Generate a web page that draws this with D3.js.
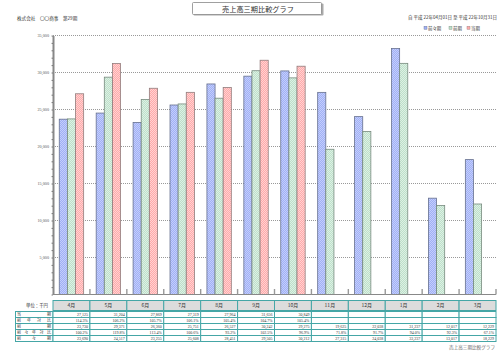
<!DOCTYPE html>
<html>
<head>
<meta charset="utf-8">
<script src="https://cdn.jsdelivr.net/npm/d3@7"></script>
<style>
body { margin: 0; background: #fff; }
text { font-family: "Noto Sans CJK JP", "Noto Sans", sans-serif; }
</style>
</head>
<body>
<script>
var months = ["4月","5月","6月","7月","8月","9月","10月","11月","12月","1月","2月","3月"];
var seriesNames = ["前々期","前期","当期"];
var zenzenki = [23690,24517,23255,25608,28451,29505,30212,27315,24038,33237,13017,18229];
var zenki = [23730,29371,26360,25751,26527,30242,29275,19625,22038,31237,12017,12229];
var touki = [27125,31204,27869,27319,27964,31656,30849,null,null,null,null,null];
var ratioTouki = ["114.3%","106.2%","105.7%","106.1%","105.4%","104.7%","105.4%","","","","",""];
var ratioZenki = ["100.2%","119.8%","113.4%","100.6%","93.2%","102.5%","96.9%","71.8%","91.7%","94.0%","92.3%","67.1%"];
var yTicks = [5000,10000,15000,20000,25000,30000,35000];
var rowLabels = ["当　　　　期","前 年 対 比","前　　　　期","前々年対比","前　々　期"];

var W = 500, H = 351;
var svg = d3.select("body").append("svg").attr("width", W).attr("height", H);

var colors = [
  {base:"#a0b0f6", alt:"#c4cefb", line:"#66708e"},
  {base:"#bde0ca", alt:"#ddf0e4", line:"#778a7e"},
  {base:"#ffaaaa", alt:"#ffd2d2", line:"#927c7c"}
];
var defs = svg.append("defs");
colors.forEach(function(c, i){
  var p = defs.append("pattern").attr("id","pat"+i).attr("width",2).attr("height",2)
    .attr("patternUnits","userSpaceOnUse");
  p.append("rect").attr("width",2).attr("height",2).attr("fill",c.base);
  p.append("rect").attr("width",1).attr("height",1).attr("fill",c.alt);
  p.append("rect").attr("x",1).attr("y",1).attr("width",1).attr("height",1).attr("fill",c.alt);
});

var xScale = d3.scaleBand().domain(months).range([53,496]).padding(0);
var inner = d3.scaleBand().domain(d3.range(3)).range([0, xScale.bandwidth()]).paddingInner(0).paddingOuter(0.77);
var yScale = d3.scaleLinear().domain([0,35000]).range([294.5,35.5]);

// header texts
svg.append("text").attr("x",17).attr("y",19.5).attr("font-size",4.6).attr("fill","#333")
  .text("株式会社　〇〇商事　第29期");
svg.append("rect").attr("x",193.5).attr("y",3.5).attr("width",130).attr("height",12)
  .attr("fill","#aaa").attr("rx",1);
svg.append("rect").attr("x",192.5).attr("y",2.5).attr("width",129).attr("height",12)
  .attr("fill","#fff").attr("stroke","#888").attr("stroke-width",0.8).attr("rx",1);
svg.append("text").attr("x",258).attr("y",11.8).attr("text-anchor","middle").attr("font-size",7.2)
  .attr("fill","#333").text("売上高三期比較グラフ");
svg.append("text").attr("x",497).attr("y",18.5).attr("text-anchor","end").attr("font-size",4.5)
  .attr("fill","#333").text("自 平成 22年04月01日 至 平成 22年10月31日");

// legend
var legendX = [424, 449, 467];
seriesNames.forEach(function(n, i){
  svg.append("rect").attr("x",legendX[i]).attr("y",26.3).attr("width",3).attr("height",3)
    .attr("fill",colors[i].base).attr("stroke",colors[i].line).attr("stroke-width",0.4);
  svg.append("text").attr("x",legendX[i]+4).attr("y",29.5).attr("font-size",4.4)
    .attr("fill","#333").text(n);
});

// gridlines
svg.append("g").selectAll("line").data(yTicks).enter().append("line")
  .attr("x1",53).attr("x2",496)
  .attr("y1",function(d){return yScale(d);}).attr("y2",function(d){return yScale(d);})
  .attr("stroke","#999").attr("stroke-width",1).attr("stroke-dasharray","1,1");

// y axis
var yAxis = d3.axisLeft(yScale).tickValues(yTicks).tickSize(0).tickPadding(4)
  .tickFormat(d3.format(","));
var yg = svg.append("g").attr("transform","translate(53,0)").call(yAxis);
yg.select(".domain").attr("stroke","#888").attr("stroke-width",2);
yg.selectAll("text").attr("font-size",4.2).attr("fill","#555")
  .style("font-family","'Liberation Serif', serif");
var minor = d3.axisLeft(yScale).tickValues(d3.range(0,35001,1000)).tickSize(1.5).tickFormat("");
var mg = svg.append("g").attr("transform","translate(53,0)").call(minor);
mg.select(".domain").remove();
mg.selectAll("line").attr("stroke","#666").attr("stroke-width",0.8);

// bars
var allSeries = [zenzenki, zenki, touki];
allSeries.forEach(function(vals, si){
  svg.append("g").selectAll("rect").data(months.map(function(m,i){return {m:m, v:vals[i]};})
    .filter(function(d){return d.v != null;}))
    .enter().append("rect")
    .attr("x",function(d){return xScale(d.m)+inner(si);})
    .attr("y",function(d){return yScale(d.v);})
    .attr("width",inner.bandwidth())
    .attr("height",function(d){return yScale(0)-yScale(d.v);})
    .attr("fill","url(#pat"+si+")")
    .attr("stroke",colors[si].line).attr("stroke-width",0.8);
});

// baseline and category ticks
svg.append("line").attr("x1",53).attr("x2",496).attr("y1",294.5).attr("y2",294.5)
  .attr("stroke","#888").attr("stroke-width",1.2);
svg.append("g").selectAll("line").data(months).enter().append("line")
  .attr("x1",function(d){return xScale(d)+xScale.bandwidth();})
  .attr("x2",function(d){return xScale(d)+xScale.bandwidth();})
  .attr("y1",289).attr("y2",294.5).attr("stroke","#999").attr("stroke-width",1.4);

// table
var teal = "#45a6a6";
var headTop = 300.5, headH = 10, rowTop = 311.5, rowH = 6;
svg.append("text").attr("x",37).attr("y",307).attr("text-anchor","middle").attr("font-size",4.4)
  .attr("fill","#333").text("単位：千円");
var tg = svg.append("g");
tg.selectAll("rect.head").data(months).enter().append("rect").attr("class","head")
  .attr("x",function(d){return xScale(d);}).attr("y",headTop)
  .attr("width",xScale.bandwidth()).attr("height",headH)
  .attr("fill","#dcdcdc").attr("stroke",teal).attr("stroke-width",1);
tg.selectAll("text.head").data(months).enter().append("text").attr("class","head")
  .attr("x",function(d){return xScale(d)+xScale.bandwidth()/2;}).attr("y",headTop+6.8)
  .attr("text-anchor","middle").attr("font-size",5).attr("fill","#333").text(function(d){return d;});

var fmt = d3.format(",");
var rows = [
  touki.map(function(v){return v == null ? "" : fmt(v);}),
  ratioTouki,
  zenki.map(fmt),
  ratioZenki,
  zenzenki.map(fmt)
];
rows.forEach(function(r, ri){
  var y = rowTop + ri*rowH;
  tg.append("rect").attr("x",15.5).attr("y",y).attr("width",53-15.5).attr("height",rowH)
    .attr("fill","#fff").attr("stroke",teal).attr("stroke-width",1);
  tg.append("text").attr("x",17).attr("y",y+4.4).attr("font-size",4).attr("fill","#333")
    .attr("textLength",34).attr("lengthAdjust","spacing").text(rowLabels[ri]);
  months.forEach(function(m, mi){
    tg.append("rect").attr("x",xScale(m)).attr("y",y).attr("width",xScale.bandwidth()).attr("height",rowH)
      .attr("fill","#fff").attr("stroke",teal).attr("stroke-width",1);
    tg.append("text").attr("x",xScale(m)+xScale.bandwidth()-2).attr("y",y+4.4)
      .attr("text-anchor","end").attr("font-size",4).attr("fill","#333")
      .style("font-family","'Liberation Serif', serif").text(r[mi]);
  });
});

svg.append("text").attr("x",495).attr("y",348.5).attr("text-anchor","end").attr("font-size",4.6)
  .attr("fill","#666").text("売上高三期比較グラフ");
</script>
</body>
</html>
